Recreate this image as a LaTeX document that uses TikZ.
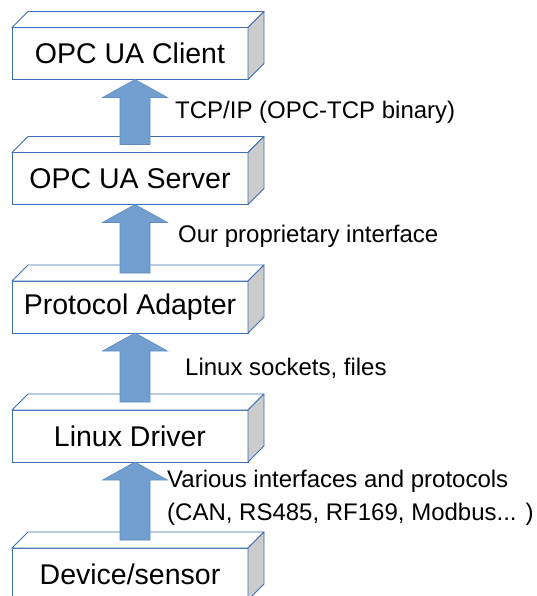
\documentclass[tikz,border=0pt]{standalone}
\usepackage{fontspec}
\setmainfont{Liberation Sans}
\usetikzlibrary{calc}
\definecolor{boxline}{HTML}{3C6FB4}
\definecolor{sidegray}{HTML}{CCCCCC}
\definecolor{arrfill}{HTML}{729FCF}
\definecolor{arrline}{HTML}{5F8CC2}
\begin{document}
\begin{tikzpicture}[x=1pt,y=-1pt,
  layerbox/.style={draw=boxline, line width=0.9pt, fill=white, minimum width=236pt, minimum height=52pt,
    inner sep=0pt, outer sep=0pt, font=\fontsize{28.5}{34}\selectfont},
  topface/.style={draw=boxline, line width=0.9pt, fill=white, line join=round},
  sideface/.style={draw=boxline, line width=0.9pt, fill=sidegray, line join=round},
  blockarrow/.style={fill=arrfill, draw=arrline, line width=0.6pt, line join=miter},
  lbl/.style={anchor=base west, inner sep=0pt, font=\fontsize{24}{33}\selectfont}]
\useasboundingbox (0,0) rectangle (536,596);
\fill[white] (0,0) rectangle (536,596);
% boxes (front faces)
\node[layerbox] (b1) at (130,53.5) {OPC UA Client};
\node[layerbox] (b2) at (130,178.5) {OPC UA Server};
\node[layerbox] (b3) at (130,307) {Protocol Adapter};
\node[layerbox] (b4) at (130,436) {Linux Driver};
\node[layerbox] (b5) at (130,574) {Device/sensor};
% 3D faces
\foreach \n in {b1,b2,b3,b4,b5} {
  \draw[topface] (\n.north west) -- ++(16,-16) -- ($(\n.north east)+(16,-16)$) -- (\n.north east) -- cycle;
  \draw[sideface] (\n.north east) -- ++(16,-16) -- ($(\n.south east)+(16,-16)$) -- (\n.south east) -- cycle;
}
% block arrows
\foreach \a/\b in {b1/b2,b2/b3,b3/b4,b4/b5} {
  \coordinate (t) at ($(\a.south)+(5,0)$);
  \coordinate (s) at ($(\b.north)+(5,-8)$);
  \draw[blockarrow] (t) -- ($(t)+(32.5,18)$) -- ($(t)+(15,18)$) -- ($(s)+(15,0)$)
    -- ($(s)+(-15,0)$) -- ($(t)+(-15,18)$) -- ($(t)+(-32.5,18)$) -- cycle;
}
% labels
\node[lbl] (l1) at (175,119) {TCP/IP (OPC-TCP binary)};
\node[lbl] (l2) at (178,242) {Our proprietary interface};
\node[lbl] (l3) at (185,375) {Linux sockets, files};
\node[lbl, align=left] (l4) at (167,520) {Various interfaces and protocols\\(CAN, RS485, RF169, Modbus... )};
\end{tikzpicture}
\end{document}
